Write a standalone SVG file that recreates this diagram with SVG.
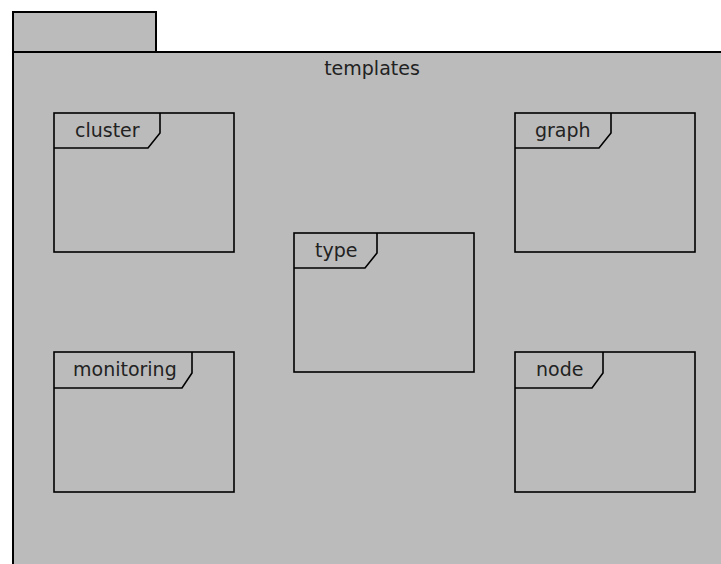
<svg xmlns="http://www.w3.org/2000/svg" width="721" height="564" viewBox="0 0 721 564">
<style>
.pkg{fill:#bbbbbb;stroke:#000;stroke-width:2}
.box{fill:none;stroke:#000;stroke-width:1.6}
.tab{fill:none;stroke:#000;stroke-width:1.6}
.lbl{font-family:"DejaVu Sans",sans-serif;font-size:19px;fill:#222}
</style>
<rect width="721" height="564" fill="#fff"/>
<g id="templates">
<rect class="pkg" x="13" y="12" width="143" height="40"/>
<rect class="pkg" x="13" y="52" width="720" height="520"/>
<text class="lbl" x="372" y="75" text-anchor="middle">templates</text>
</g>
<g id="cluster">
<rect class="box" x="54" y="113" width="180" height="139"/>
<path class="tab" d="M54 148H148L160 133V113"/>
<text class="lbl" x="75" y="137">cluster</text>
</g>
<g id="graph">
<rect class="box" x="515" y="113" width="180" height="139"/>
<path class="tab" d="M515 148H599L611 133V113"/>
<text class="lbl" x="535" y="137">graph</text>
</g>
<g id="type">
<rect class="box" x="294" y="233" width="180" height="139"/>
<path class="tab" d="M294 268H365L377 253V233"/>
<text class="lbl" x="315" y="257">type</text>
</g>
<g id="monitoring">
<rect class="box" x="54" y="352" width="180" height="140"/>
<path class="tab" d="M54 388H182L192 373V352"/>
<text class="lbl" x="73" y="376">monitoring</text>
</g>
<g id="node">
<rect class="box" x="515" y="352" width="180" height="140"/>
<path class="tab" d="M515 388H592L603 373V352"/>
<text class="lbl" x="536" y="376">node</text>
</g>
<g id="connectors"></g>
</svg>
